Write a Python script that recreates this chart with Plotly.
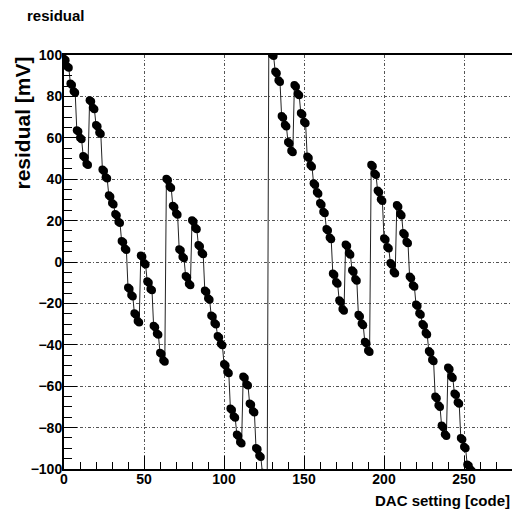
import plotly.graph_objects as go

# DAC codes 0..255
dac_code = list(range(256))

# residual [mV] (codes 0..127)
residual_low = [
    98.2, 97.5, 94.5, 93.8,   86.2, 85.5, 82.5, 81.8,
    63.7, 63.0, 60.0, 59.3,   51.2, 50.5, 47.5, 46.8,
    78.2, 77.5, 74.5, 73.8,   66.2, 65.5, 62.5, 61.8,
    44.7, 44.0, 41.0, 40.3,   32.2, 31.5, 28.5, 27.8,
    23.2, 22.5, 19.5, 18.8,   10.2, 9.5, 6.5, 5.8,
    -12.3, -13.0, -16.0, -16.7, -24.8, -25.5, -28.5, -29.2,
    3.2, 2.5, -0.5, -1.2,     -9.3, -10.0, -13.0, -13.7,
    -30.8, -31.5, -34.5, -35.2, -43.8, -44.5, -47.5, -48.2,
    40.2, 39.5, 36.5, 35.8,   27.2, 26.5, 23.5, 22.8,
    6.2, 5.5, 2.5, 1.8,       -6.8, -7.5, -10.5, -11.2,
    20.2, 19.5, 16.5, 15.8,   8.2, 7.5, 4.5, 3.8,
    -13.8, -14.5, -17.5, -18.2, -25.8, -26.5, -29.5, -30.2,
    -35.8, -36.5, -39.5, -40.2, -49.3, -50.0, -53.0, -53.7,
    -70.8, -71.5, -74.5, -75.2, -83.3, -84.0, -87.0, -87.7,
    -55.3, -56.0, -59.0, -59.7, -68.3, -69.0, -72.0, -72.7,
    -89.8, -90.5, -93.5, -94.2, -101.8, -102.5, -105.5, -106.2,
]

# residual [mV] (codes 128..255)
residual_high = [
    103.0, 102.2, 100.2, 99.5, 92.0, 91.2, 87.8, 87.0,
    70.5, 69.7, 66.3, 65.5,   58.0, 57.2, 53.8, 53.0,
    85.5, 84.7, 81.3, 80.5,   72.0, 71.2, 67.8, 67.0,
    51.0, 50.2, 46.8, 46.0,   38.0, 37.2, 33.8, 33.0,
    28.5, 27.7, 24.3, 23.5,   16.0, 15.2, 11.8, 11.0,
    -5.5, -6.3, -9.7, -10.5,  -18.5, -19.3, -22.7, -23.5,
    8.5, 7.7, 4.3, 3.5,       -4.0, -4.8, -8.2, -9.0,
    -25.5, -26.3, -29.7, -30.5, -38.5, -39.3, -42.7, -43.5,
    47.0, 46.2, 42.8, 42.0,   34.5, 33.7, 30.3, 29.5,
    11.5, 10.7, 7.3, 6.5,     -0.5, -1.3, -4.7, -5.5,
    27.5, 26.7, 23.3, 22.5,   14.0, 13.2, 9.8, 9.0,
    -7.0, -7.8, -11.2, -12.0, -20.5, -21.3, -24.7, -25.5,
    -30.0, -30.8, -34.2, -35.0, -43.0, -43.8, -47.2, -48.0,
    -65.0, -65.8, -69.2, -70.0, -79.0, -79.8, -83.2, -84.0,
    -51.0, -51.8, -55.2, -56.0, -63.5, -64.3, -67.7, -68.5,
    -85.0, -85.8, -89.2, -90.0, -97.8, -98.4, -100.3, -101.0,
]

residual = residual_low + residual_high

x_ticks = [0, 50, 100, 150, 200, 250]
y_ticks = [-100, -80, -60, -40, -20, 0, 20, 40, 60, 80, 100]

FONT = "Liberation Sans, Arial, Helvetica, sans-serif"

fig = go.Figure()
fig.add_trace(go.Scatter(
    x=dac_code, y=residual, mode="lines+markers",
    line=dict(color="#222222", width=1),
    marker=dict(color="black", size=8, symbol="circle"),
    showlegend=False,
))

fig.update_layout(
    width=512, height=520,
    margin=dict(l=64, r=0, t=55, b=51),
    paper_bgcolor="white", plot_bgcolor="white",
    font=dict(family=FONT, size=14, color="black", weight="bold"),
    title=dict(text="residual", xref="container", yref="container",
               x=27/512, xanchor="left", y=1-15.5/520, yanchor="middle",
               font=dict(family=FONT, size=15, color="black", weight="bold")),
)

grid_dash = "3px,2px,1px,2px"

fig.update_xaxes(
    range=[0, 280], tickmode="array", tickvals=x_ticks,
    ticks="inside", ticklen=13, tickwidth=1, tickcolor="black",
    minor=dict(dtick=10, ticks="inside", ticklen=7, tickcolor="black", showgrid=False),
    showline=True, linecolor="black", linewidth=2, mirror=True,
    showgrid=True, gridcolor="#555555", griddash=grid_dash, gridwidth=1,
    zeroline=False, ticklabelstandoff=-4,
    tickfont=dict(family=FONT, size=14, color="black", weight="bold"),
)
fig.update_yaxes(
    range=[-100, 100], tickmode="array", tickvals=y_ticks,
    ticks="inside", ticklen=13, tickwidth=1, tickcolor="black",
    minor=dict(dtick=5, ticks="inside", ticklen=8, tickcolor="black", showgrid=False),
    showline=True, linecolor="black", linewidth=2, mirror=False,
    showgrid=True, gridcolor="#555555", griddash=grid_dash, gridwidth=1,
    zeroline=False, ticklabelstandoff=-3,
    tickfont=dict(family=FONT, size=14, color="black", weight="bold"),
)

fig.add_annotation(
    text="residual [mV]", textangle=-90, showarrow=False,
    xref="paper", yref="paper", x=(22-64)/448, y=1.0,
    xanchor="center", yanchor="top",
    font=dict(family=FONT, size=21, color="black", weight="bold"),
)
fig.add_annotation(
    text="DAC setting [code]", showarrow=False,
    xref="paper", yref="paper", x=1.0, y=(469-501)/414,
    xanchor="right", yanchor="middle",
    font=dict(family=FONT, size=15, color="black", weight="bold"),
)

fig.write_html("out.html")
